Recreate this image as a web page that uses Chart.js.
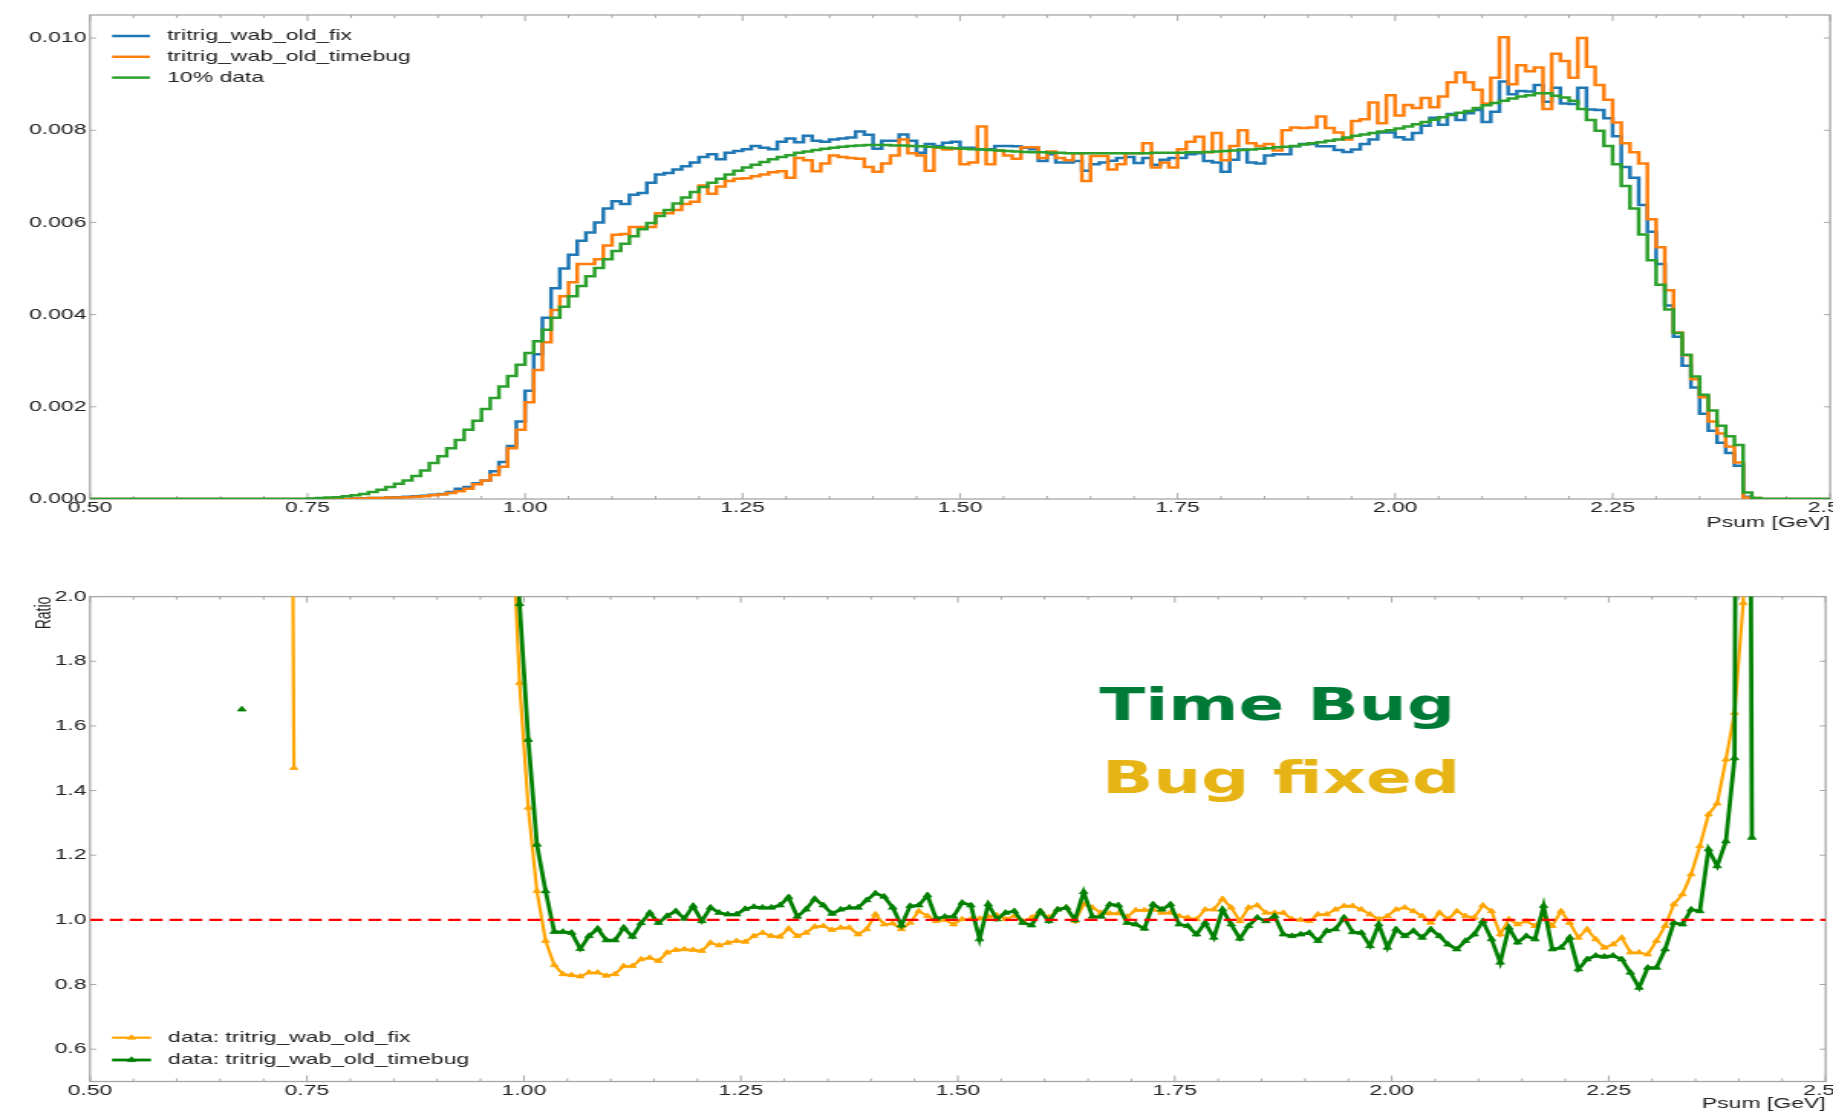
<!DOCTYPE html>
<html>
<head>
<meta charset="utf-8">
<title>Psum comparison</title>
<script src="https://cdn.jsdelivr.net/npm/chart.js@4.4.1/dist/chart.umd.min.js"></script>
<style>
  html, body { margin: 0; padding: 0; background: #fff; overflow: hidden; }
  canvas { position: absolute; left: 0; }
</style>
</head>
<body>
<!-- the plots are drawn on a narrower canvas and stretched sideways to the page width -->
<canvas id="hist" width="1198" height="560" style="top:0;width:1833px;height:560px"></canvas>
<canvas id="ratio" width="1198" height="553" style="top:560px;width:1833px;height:553px"></canvas>
<script>
// Psum histograms, 200 bins of 0.01 GeV from 0.50 to 2.50 (normalised)
const binLow = 0.5;
const binWidth = 0.01;

const xTicks = [0.5, 0.75, 1.0, 1.25, 1.5, 1.75, 2.0, 2.25, 2.5];
const histTicks = [0, 0.002, 0.004, 0.006, 0.008, 0.010];
const ratioTicks = [0.6, 0.8, 1.0, 1.2, 1.4, 1.6, 1.8, 2.0];
const ratioRef = 1.0;

// tritrig_wab_old_fix
const fixMC = [
  0,0,0,0,0,0,0,0,0,0,                                                                  // 0.50
  0,0,0,0,0,0,0,0,0,0,                                                                  // 0.60
  0,0,0,0,0,0,0,0,0,0,                                                                  // 0.70
  0.00001,0.00001,0.00002,0.00002,0.00003,0.00004,0.00005,0.00006,0.00007,0.00009,      // 0.80
  0.00011,0.00015,0.00022,0.00026,0.00034,0.0004,0.0006,0.0008,0.00115,0.00168,         // 0.90
  0.00235,0.00314,0.00393,0.00457,0.005,0.0053,0.0056,0.00578,0.006,0.0063,             // 1.00
  0.00646,0.0064,0.0066,0.00664,0.00686,0.00704,0.00707,0.00715,0.00722,0.0073,         // 1.10
  0.00742,0.00748,0.00737,0.00751,0.00755,0.00759,0.00766,0.00762,0.00759,0.00775,      // 1.20
  0.00782,0.00774,0.00788,0.00777,0.00775,0.0078,0.00782,0.00784,0.00797,0.0079,        // 1.30
  0.0076,0.00777,0.00777,0.00791,0.00777,0.00751,0.0077,0.00766,0.00773,0.00775,        // 1.40
  0.00762,0.00762,0.00759,0.00759,0.00766,0.00766,0.00765,0.00762,0.00759,0.00733,      // 1.50
  0.00748,0.0073,0.0073,0.00733,0.00712,0.00726,0.0073,0.00734,0.0074,0.00742,          // 1.60
  0.00729,0.0074,0.00725,0.00736,0.0074,0.0074,0.00748,0.0075,0.00733,0.0073,           // 1.70
  0.0071,0.00736,0.00758,0.0073,0.00728,0.00745,0.00748,0.00748,0.00765,0.0077,         // 1.80
  0.0077,0.00765,0.00765,0.00757,0.00753,0.00758,0.0077,0.0078,0.00795,0.00795,         // 1.90
  0.00785,0.0078,0.00794,0.0081,0.00827,0.00812,0.00835,0.00822,0.00837,0.00844,        // 2.00
  0.00818,0.0084,0.00906,0.00878,0.00885,0.00884,0.00898,0.00862,0.00892,0.00858,       // 2.10
  0.00857,0.00892,0.00845,0.00844,0.00826,0.00787,0.0072,0.00697,0.00638,0.0058,        // 2.20
  0.0051,0.0042,0.00352,0.00289,0.00242,0.00185,0.00148,0.00122,0.001,0.00072,          // 2.30
  0.00005,0.00001,0,0,0,0,0,0,0,0                                                       // 2.40
];

// tritrig_wab_old_timebug
const timebugMC = [
  0,0,0,0,0,0,0,0,0,0,                                                                  // 0.50
  0,0,0,0,0,0,0,0,0,0,                                                                  // 0.60
  0,0,0,0,0,0,0,0,0,0,                                                                  // 0.70
  0.00001,0.00001,0.00002,0.00002,0.00003,0.00003,0.00004,0.00005,0.00006,0.00008,      // 0.80
  0.0001,0.00013,0.00017,0.00022,0.00032,0.0004,0.00052,0.0007,0.0011,0.0015,           // 0.90
  0.0021,0.0028,0.0034,0.0041,0.0044,0.0047,0.0051,0.0051,0.0052,0.0055,                // 1.00
  0.00573,0.00575,0.0059,0.0059,0.0059,0.0062,0.0062,0.00627,0.0064,0.00645,            // 1.10
  0.0068,0.00662,0.00678,0.0069,0.00695,0.00696,0.007,0.00704,0.00709,0.00711,          // 1.20
  0.00697,0.0074,0.00735,0.00711,0.00728,0.00745,0.00742,0.0074,0.00738,0.0072,         // 1.30
  0.0071,0.00728,0.00745,0.0078,0.0075,0.00745,0.00712,0.00762,0.00758,0.0076,          // 1.40
  0.00726,0.0073,0.00808,0.00726,0.00756,0.00745,0.00738,0.00763,0.00763,0.0074,        // 1.50
  0.00754,0.0074,0.00735,0.0075,0.0069,0.00744,0.00744,0.00715,0.00726,0.0075,          // 1.60
  0.0075,0.00772,0.00719,0.0073,0.00719,0.00759,0.00775,0.00786,0.00752,0.00794,        // 1.70
  0.00735,0.00766,0.008,0.00772,0.00766,0.0077,0.00756,0.008,0.00806,0.00805,           // 1.80
  0.00806,0.0083,0.00805,0.00795,0.0078,0.0082,0.00824,0.0086,0.00815,0.00876,          // 1.90
  0.00832,0.00855,0.00848,0.0087,0.0085,0.00873,0.00904,0.00925,0.00904,0.00888,        // 2.00
  0.00858,0.00914,0.01002,0.009,0.00941,0.00928,0.00936,0.00846,0.00966,0.0095,         // 2.10
  0.00914,0.01,0.00938,0.00898,0.00866,0.00817,0.00772,0.00752,0.00728,0.00607,         // 2.20
  0.00546,0.00453,0.00361,0.00312,0.0026,0.00221,0.00168,0.00142,0.00114,0.00079,       // 2.30
  0.00003,0.00002,0,0,0,0,0,0,0,0                                                       // 2.40
];

// 10% data
const data10 = [
  0,0,0,0,0,0,0,0,0,0,                                                                  // 0.50
  0,0,0,0,0,0,0,0,0,0,                                                                  // 0.60
  0,0,0,0,0,0.00001,0.00002,0.00003,0.00004,0.00006,                                    // 0.70
  0.00008,0.00011,0.00015,0.0002,0.00026,0.00033,0.0004,0.0005,0.00062,0.00078,         // 0.80
  0.00093,0.0011,0.00128,0.0015,0.0017,0.00195,0.00219,0.00244,0.00267,0.00291,         // 0.90
  0.00317,0.00342,0.00367,0.00393,0.00417,0.0044,0.00462,0.00483,0.00501,0.0052,        // 1.00
  0.00538,0.00554,0.0057,0.00585,0.00599,0.00614,0.00627,0.00641,0.00654,0.00666,       // 1.10
  0.00677,0.00686,0.00695,0.00704,0.00712,0.00719,0.00725,0.00731,0.00737,0.00742,      // 1.20
  0.00746,0.00751,0.00754,0.00757,0.0076,0.00762,0.00764,0.00766,0.00767,0.00768,       // 1.30
  0.00768,0.00768,0.00767,0.00767,0.00766,0.00765,0.00764,0.00763,0.00762,0.00761,      // 1.40
  0.0076,0.00759,0.00758,0.00757,0.00756,0.00755,0.00754,0.00753,0.00752,0.00752,       // 1.50
  0.00751,0.00751,0.0075,0.0075,0.0075,0.0075,0.0075,0.0075,0.0075,0.0075,              // 1.60
  0.0075,0.0075,0.00751,0.00751,0.00751,0.00751,0.00752,0.00752,0.00753,0.00754,        // 1.70
  0.00755,0.00756,0.00757,0.00758,0.0076,0.00761,0.00763,0.00764,0.00766,0.00769,       // 1.80
  0.00772,0.00774,0.00777,0.0078,0.00784,0.00788,0.00791,0.00794,0.00797,0.008,         // 1.90
  0.00804,0.00808,0.00813,0.00818,0.00823,0.00828,0.00833,0.00838,0.00842,0.00848,      // 2.00
  0.00854,0.00859,0.00864,0.00869,0.00873,0.00876,0.0088,0.0088,0.00875,0.00871,        // 2.10
  0.00864,0.00846,0.00822,0.00799,0.00766,0.00726,0.00679,0.0063,0.00574,0.00518,       // 2.20
  0.00465,0.00411,0.0036,0.00313,0.00266,0.00226,0.00192,0.00159,0.00136,0.00117,       // 2.30
  0.00014,0.00002,0,0,0,0,0,0,0,0                                                       // 2.40
];

// data / MC per bin, null where the ratio is undefined
const ratioFix = [
  null,null,null,null,null,null,null,null,null,null,                                    // 0.50
  null,null,null,null,null,null,null,null,null,null,                                    // 0.60
  null,null,6.5,1.47,null,null,null,null,null,null,                                     // 0.70
  null,null,null,null,null,null,null,null,null,null,                                    // 0.80
  null,null,null,null,null,null,null,null,2.33,1.733,                                   // 0.90
  1.347,1.089,0.935,0.86,0.832,0.829,0.825,0.837,0.837,0.827,                           // 1.00
  0.832,0.857,0.857,0.878,0.883,0.873,0.899,0.907,0.909,0.907,                          // 1.10
  0.904,0.929,0.921,0.929,0.935,0.932,0.95,0.96,0.95,0.948,                             // 1.20
  0.973,0.95,0.96,0.979,0.981,0.969,0.976,0.976,0.955,0.971,                            // 1.30
  1.017,0.986,0.989,0.971,0.991,1.027,1.012,0.996,1.0,0.986,                            // 1.40
  1.002,1.002,1.004,1.01,1.014,1.002,1.012,0.996,1.007,1.027,                           // 1.50
  1.007,1.032,1.038,0.996,1.048,1.038,1.022,1.02,1.02,1.01,                             // 1.60
  1.03,1.03,1.032,1.022,1.022,1.012,1.007,1.002,1.032,1.032,                            // 1.70
  1.065,1.038,0.996,1.038,1.045,1.022,1.022,1.022,1.002,1.0,                            // 1.80
  0.996,1.017,1.017,1.032,1.043,1.043,1.032,1.017,1.002,1.012,                          // 1.90
  1.032,1.038,1.027,1.012,0.991,1.022,1.002,1.027,1.012,1.007,                          // 2.00
  1.045,1.027,0.955,1.002,0.986,0.996,0.981,1.012,0.981,1.027,                          // 2.10
  0.991,0.945,0.971,0.94,0.914,0.924,0.945,0.899,0.899,0.893,                           // 2.20
  0.935,0.981,1.048,1.079,1.141,1.228,1.326,1.36,1.496,1.64,                            // 2.30
  1.98,4.0,null,null,null,null,null,null,null,null                                      // 2.40
];

const ratioTimebug = [
  null,null,null,null,null,null,null,null,null,null,                                    // 0.50
  null,null,null,null,null,null,null,1.651,null,null,                                   // 0.60
  null,null,null,null,null,null,null,null,null,null,                                    // 0.70
  null,null,null,null,null,null,null,null,null,null,                                    // 0.80
  null,null,null,null,null,null,null,null,2.45,1.977,                                   // 0.90
  1.557,1.233,1.089,0.963,0.963,0.96,0.91,0.95,0.973,0.937,                             // 1.00
  0.937,0.976,0.948,0.99,1.022,0.991,1.012,1.027,1.004,1.043,                           // 1.10
  0.996,1.038,1.022,1.017,1.017,1.034,1.04,1.038,1.038,1.045,                           // 1.20
  1.07,1.01,1.032,1.065,1.045,1.019,1.032,1.038,1.038,1.061,                            // 1.30
  1.082,1.072,1.038,0.983,1.043,1.045,1.076,1.004,1.01,1.01,                            // 1.40
  1.053,1.045,0.94,1.048,1.002,1.022,1.027,0.991,0.983,1.027,                           // 1.50
  0.996,1.032,1.038,1.0,1.086,1.01,1.01,1.048,1.045,0.991,                              // 1.60
  0.986,0.973,1.048,1.032,1.048,0.986,0.981,0.955,0.991,0.945,                          // 1.70
  1.032,0.986,0.942,0.981,1.007,0.996,1.012,0.955,0.95,0.955,                           // 1.80
  0.96,0.935,0.966,0.971,1.007,0.962,0.96,0.919,0.986,0.914,                            // 1.90
  0.971,0.95,0.966,0.945,0.971,0.95,0.924,0.909,0.935,0.955,                            // 2.00
  0.996,0.94,0.868,0.976,0.93,0.95,0.94,1.043,0.909,0.914,                              // 2.10
  0.945,0.847,0.878,0.889,0.886,0.889,0.878,0.837,0.79,0.852,                           // 2.20
  0.852,0.909,0.991,0.986,1.032,1.027,1.218,1.166,1.243,1.5,                            // 2.30
  8.0,1.254,null,null,null,null,null,null,null,null                                     // 2.40
];

Chart.defaults.font.family = "'Liberation Sans', Arial, sans-serif";
Chart.defaults.font.size = 15;
Chart.defaults.color = '#222';

// outline points at the left bin edges, closed at the last edge
function stepPoints(values) {
  const pts = values.map((v, i) => ({ x: binLow + i * binWidth, y: v }));
  pts.push({ x: binLow + values.length * binWidth, y: 0 });
  return pts;
}

function centrePoints(values) {
  return values.map((v, i) => ({ x: binLow + (i + 0.5) * binWidth, y: v }));
}

// box round the plot area with inward tick marks
const frame = {
  id: 'frame',
  beforeDatasetsDraw(chart) {
    const { ctx, chartArea: a, scales: { x, y } } = chart;
    ctx.save();
    ctx.strokeStyle = '#a6a6a6';
    ctx.lineWidth = 1.3;
    ctx.strokeRect(a.left, a.top, a.right - a.left, a.bottom - a.top);
    ctx.lineWidth = 1;
    ctx.beginPath();
    const mark = (px, len) => {
      ctx.moveTo(px, a.bottom); ctx.lineTo(px, a.bottom - len);
      ctx.moveTo(px, a.top); ctx.lineTo(px, a.top + len);
    };
    const xs = x.ticks.map(t => t.value);
    xs.forEach((v, i) => {
      mark(x.getPixelForValue(v), 6);
      if (i < xs.length - 1) {
        for (let j = 1; j < 5; j++) mark(x.getPixelForValue(v + (xs[i + 1] - v) * j / 5), 3);
      }
    });
    y.ticks.forEach(t => {
      const py = y.getPixelForValue(t.value);
      ctx.moveTo(a.left, py); ctx.lineTo(a.left + 4, py);
      ctx.moveTo(a.right, py); ctx.lineTo(a.right - 4, py);
    });
    ctx.stroke();
    ctx.restore();
  }
};

// legend drawn inside the axes, built from the labelled datasets
const insetLegend = {
  id: 'insetLegend',
  afterDatasetsDraw(chart, args, opts) {
    const { ctx } = chart;
    const items = chart.data.datasets.filter(d => d.label);
    ctx.save();
    ctx.font = "15px 'Liberation Sans', Arial, sans-serif";
    ctx.textBaseline = 'middle';
    items.forEach((d, i) => {
      const yy = opts.y + i * opts.rowGap;
      ctx.strokeStyle = d.borderColor;
      ctx.lineWidth = d.borderWidth;
      ctx.beginPath();
      ctx.moveTo(opts.x, yy);
      ctx.lineTo(opts.x + opts.sample, yy);
      ctx.stroke();
      if (d.pointRadius) {
        ctx.fillStyle = d.borderColor;
        ctx.lineWidth = d.pointBorderWidth || 0;
        Chart.helpers.drawPoint(ctx, { pointStyle: 'triangle', radius: d.pointRadius, borderWidth: d.pointBorderWidth || 0 },
          opts.x + opts.sample / 2, yy);
      }
      ctx.fillStyle = '#222';
      ctx.fillText(d.label, opts.textX, yy);
    });
    ctx.restore();
  }
};

// large coloured notes on the ratio panel
const notes = {
  id: 'notes',
  afterDatasetsDraw(chart, args, opts) {
    const { ctx, scales: { x, y } } = chart;
    ctx.save();
    ctx.font = opts.font;
    ctx.textBaseline = 'alphabetic';
    opts.items.forEach(n => {
      ctx.fillStyle = n.color;
      ctx.fillText(n.text, x.getPixelForValue(n.x), y.getPixelForValue(n.y));
    });
    ctx.restore();
  }
};

const yAxisWidth = 58.8;

function xScale(height, titlePad) {
  return {
    type: 'linear',
    min: xTicks[0],
    max: xTicks[xTicks.length - 1],
    afterBuildTicks: s => { s.ticks = xTicks.map(v => ({ value: v })); },
    afterFit: s => { s.height = height; s.paddingLeft = 0; s.paddingRight = 0; },
    ticks: { callback: v => v.toFixed(2), padding: 0, maxRotation: 0, autoSkip: false },
    grid: { display: false, drawTicks: false },
    border: { display: false },
    title: { display: true, text: 'Psum [GeV]', align: 'end', padding: { top: 0, bottom: titlePad } }
  };
}

const histLine = { stepped: true, pointRadius: 0, borderWidth: 2.5, fill: false };

new Chart(document.getElementById('hist'), {
  type: 'line',
  data: {
    datasets: [
      { ...histLine, label: 'tritrig_wab_old_fix', data: stepPoints(fixMC), borderColor: '#1f77b4', order: 2 },
      { ...histLine, label: 'tritrig_wab_old_timebug', data: stepPoints(timebugMC), borderColor: '#ff7f0e', order: 1 },
      { ...histLine, label: '10% data', data: stepPoints(data10), borderColor: '#2ca02c', order: 0 }
    ]
  },
  options: {
    responsive: false,
    animation: false,
    events: [],
    layout: { padding: { top: 15, right: 1.9, bottom: 26.5, left: 0 } },
    scales: {
      x: xScale(34.5, 2),
      y: {
        type: 'linear',
        min: 0,
        max: 0.0105,
        afterBuildTicks: s => { s.ticks = histTicks.map(v => ({ value: v })); },
        afterFit: s => { s.width = yAxisWidth; s.paddingTop = 0; s.paddingBottom = 0; },
        ticks: { callback: v => v.toFixed(3), padding: 2.3 },
        grid: { display: false, drawTicks: false },
        border: { display: false }
      }
    },
    plugins: {
      legend: { display: false },
      tooltip: { enabled: false },
      insetLegend: { x: 73.2, sample: 24.8, textX: 109.2, y: 36, rowGap: 20.8 }
    }
  },
  plugins: [frame, insetLegend]
});

const ratioLine = { pointStyle: 'triangle', spanGaps: false, clip: 0, fill: false };

new Chart(document.getElementById('ratio'), {
  type: 'line',
  data: {
    datasets: [
      { label: null, data: [{ x: xTicks[0], y: ratioRef }, { x: xTicks[xTicks.length - 1], y: ratioRef }],
        borderColor: '#ff0000', borderWidth: 2.3, borderDash: [8.5, 4.5], pointRadius: 0, order: -1 },
      { ...ratioLine, label: 'data: tritrig_wab_old_fix', data: centrePoints(ratioFix),
        borderColor: '#ffa500', backgroundColor: '#ffa500', borderWidth: 2.2,
        pointRadius: 3, pointBorderWidth: 0.8, order: 1 },
      { ...ratioLine, label: 'data: tritrig_wab_old_timebug', data: centrePoints(ratioTimebug),
        borderColor: '#008000', backgroundColor: '#008000', borderWidth: 2.8,
        pointRadius: 3.2, pointBorderWidth: 0.8, order: 0 }
    ]
  },
  options: {
    responsive: false,
    animation: false,
    events: [],
    layout: { padding: { top: 36.6, right: 1.9, bottom: 0.5, left: 0 } },
    scales: {
      x: xScale(31, 0),
      y: {
        type: 'linear',
        min: 0.5,
        max: 2.0,
        afterBuildTicks: s => { s.ticks = ratioTicks.map(v => ({ value: v })); },
        afterFit: s => { s.width = yAxisWidth; s.paddingTop = 0; s.paddingBottom = 0; },
        ticks: { callback: v => v.toFixed(1), padding: 2.3 },
        grid: { display: false, drawTicks: false },
        border: { display: false },
        title: { display: true, text: 'Ratio', align: 'end', font: { size: 14 }, padding: { top: 20.4, bottom: 0 } }
      }
    },
    plugins: {
      legend: { display: false },
      tooltip: { enabled: false },
      insetLegend: { x: 73.2, sample: 25.5, textX: 109.8, y: 477.7, rowGap: 22.3 },
      notes: {
        font: "bold 44px 'DejaVu Sans', sans-serif",
        items: [
          { text: 'Time Bug', color: '#007a37', x: 1.663, y: 1.619 },
          { text: 'Bug fixed', color: '#e6b415', x: 1.666, y: 1.393 }
        ]
      }
    }
  },
  plugins: [frame, insetLegend, notes]
});
</script>
</body>
</html>
